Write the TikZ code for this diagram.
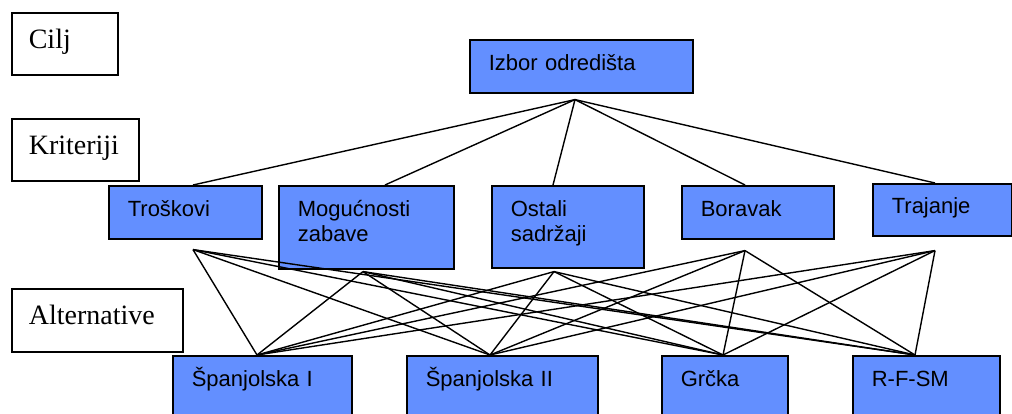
\documentclass[tikz,border=0pt]{standalone}
\usepackage{fontspec}
\setmainfont{Liberation Serif}
\setsansfont{Liberation Sans}
\usepackage{xcolor}
\usetikzlibrary{positioning}
\definecolor{boxblue}{RGB}{99,143,255}

\begin{document}
\begin{tikzpicture}[x=1pt, y=-1pt,
   box/.style={draw, line width=1.6pt, fill=boxblue, anchor=north west, inner xsep=19pt, inner ysep=0pt,
     text height=31pt, text depth=22pt, align=left, font=\sffamily\fontsize{22}{25}\selectfont},
   level/.style={draw, line width=1.6pt, fill=white, anchor=north west, inner xsep=17pt, inner ysep=0pt,
     text height=36pt, text depth=26pt, align=left, font=\rmfamily\fontsize{28}{32}\selectfont},
   link/.style={line width=1.4pt}]
   \clip (0,0) rectangle (1012,414);
   % levels
   \node[level, text width=72pt] (cilj) at (11,12) {Cilj};
   \node[level, text width=93pt] (krit) at (11,118) {Kriteriji};
   \node[level, text width=137pt, text depth=27pt] (alter) at (11,288) {Alternative};
   % goal
   \node[box, text width=185pt] (izbor) at (469,39) {Izbor odredišta};
   % criteria
   \node[box, text width=115pt, text depth=22pt] (trosk) at (108,185) {Troškovi};
   \node[box, text width=137pt, text depth=52pt] (mog) at (278,185) {Mogućnosti\\zabave};
   \node[box, text width=114pt, text depth=51pt] (ostali) at (491,185) {Ostali\\sadržaji};
   \node[box, text width=114pt, text depth=22pt] (borav) at (681,185) {Boravak};
   \node[box, text width=101pt, text height=30pt, text depth=22pt] (traj) at (872,183) {Trajanje};
   % alternatives
   \node[box, text width=141pt, text depth=45pt] (span1) at (172,355) {Španjolska I};
   \node[box, text width=153pt, text depth=45pt] (span2) at (406,355) {Španjolska II};
   \node[box, text width=88pt, text depth=45pt] (grc) at (661,355) {Grčka};
   \node[box, text width=109pt, text depth=45pt] (rfsm) at (852,355) {R-F-SM};
   % where the lines meet the boxes
   \coordinate (izbor-b) at ([xshift=106pt, yshift=-6pt]izbor.south west);
   \coordinate (trosk-t) at ([xshift=85pt]trosk.north west);
   \coordinate (trosk-b) at ([xshift=85pt, yshift=-10pt]trosk.south west);
   \coordinate (mog-t) at ([xshift=107pt]mog.north west);
   \coordinate (mog-b) at ([xshift=85pt, yshift=-2pt]mog.south west);
   \coordinate (ostali-t) at ([xshift=62pt]ostali.north west);
   \coordinate (ostali-b) at ([xshift=63pt, yshift=-3pt]ostali.south west);
   \coordinate (borav-t) at ([xshift=64pt]borav.north west);
   \coordinate (borav-b) at ([xshift=64pt, yshift=-11pt]borav.south west);
   \coordinate (traj-t) at ([xshift=63pt]traj.north west);
   \coordinate (traj-b) at ([xshift=63pt, yshift=-14pt]traj.south west);
   \coordinate (span1-t) at ([xshift=85pt]span1.north west);
   \coordinate (span2-t) at ([xshift=84pt]span2.north west);
   \coordinate (grc-t) at ([xshift=62pt]grc.north west);
   \coordinate (rfsm-t) at ([xshift=63pt]rfsm.north west);
   \path[link]
    (izbor-b) edge (trosk-t)
    (izbor-b) edge (mog-t)
    (izbor-b) edge (ostali-t)
    (izbor-b) edge (borav-t)
    (izbor-b) edge (traj-t)
    (trosk-b) edge (span1-t)
    (trosk-b) edge (span2-t)
    (trosk-b) edge (grc-t)
    (trosk-b) edge (rfsm-t)
    (mog-b) edge (span1-t)
    (mog-b) edge (span2-t)
    (mog-b) edge (grc-t)
    (mog-b) edge (rfsm-t)
    (ostali-b) edge (span1-t)
    (ostali-b) edge (span2-t)
    (ostali-b) edge (grc-t)
    (ostali-b) edge (rfsm-t)
    (borav-b) edge (span1-t)
    (borav-b) edge (span2-t)
    (borav-b) edge (grc-t)
    (borav-b) edge (rfsm-t)
    (traj-b) edge (span1-t)
    (traj-b) edge (span2-t)
    (traj-b) edge (grc-t)
    (traj-b) edge (rfsm-t)
    ;
\end{tikzpicture}
\end{document}
